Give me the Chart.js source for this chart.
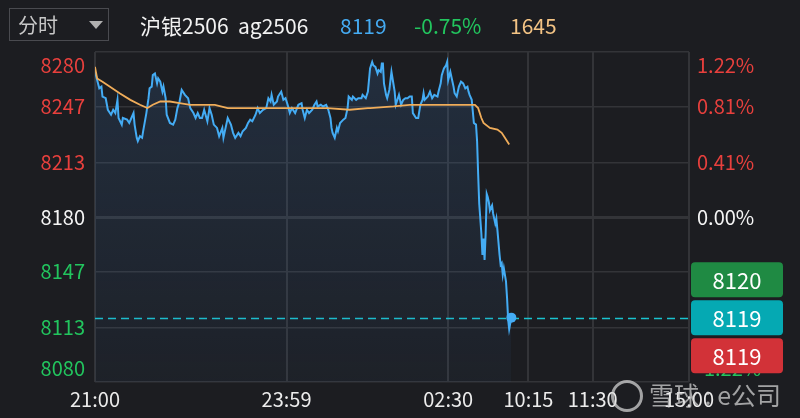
<!DOCTYPE html>
<html>
<head>
<meta charset="utf-8">
<script src="https://cdn.jsdelivr.net/npm/chart.js@4.4.1/dist/chart.umd.min.js"></script>
<style>
  html, body { margin: 0; padding: 0; background: #1c1d21; }
  #wrap { position: relative; width: 800px; height: 418px; overflow: hidden; font-family: "Noto Sans CJK SC", sans-serif; }
  canvas { display: block; }
  .hd { position: absolute; top: 9px; font-size: 21px; line-height: 32px; white-space: nowrap; }
  #sel { position: absolute; left: 9px; top: 8px; width: 100px; height: 33px; border: 1px solid #4a4b50; box-sizing: border-box; }
  #sel span { position: absolute; left: 8px; top: 0; font-size: 20px; line-height: 31px; color: #c8c8c8; }
  #sel i { position: absolute; left: 79px; top: 12px; width: 0; height: 0; border-left: 7px solid transparent; border-right: 7px solid transparent; border-top: 8px solid #b0b0b0; }
  #wm { position: absolute; left: 611px; top: 376px; color: rgba(215,215,215,0.72); font-size: 25px; line-height: 36px; white-space: nowrap; }
  #wm b { display: inline-block; width: 32px; height: 32px; border: 3px solid rgba(215,215,215,0.72); border-radius: 50%; vertical-align: -7px; margin-right: 6px; box-sizing: border-box; }
</style>
</head>
<body>
<div id="wrap">
  <canvas id="chart" width="800" height="418"></canvas>
  <div id="sel"><span>分时</span><i></i></div>
  <div class="hd" style="left:140px;color:#f2f2f2">沪银2506&nbsp;&nbsp;ag2506</div>
  <div class="hd" style="left:340px;color:#45abf2">8119</div>
  <div class="hd" style="left:414px;color:#22c55e">-0.75%</div>
  <div class="hd" style="left:510px;color:#f3c384">1645</div>
  <div id="wm"><b></b>雪球 : e公司</div>
</div>
<script>
const prevClose = 8180
const lastPrice = 8119
const yTicks = [8080, 8113, 8147, 8180, 8213, 8247, 8280]
const pctLabels = ['-1.22%', '-0.81%', '-0.41%', '0.00%', '0.41%', '0.81%', '1.22%']
const timeTicks = [0, 179, 330, 405, 465, 555]
const timeLabels = ['21:00', '23:59', '02:30', '10:15', '11:30', '15:00']
const sideValues = [8120, 8119, 8119]

// minutes since 21:00 on the trading clock
const priceMinutes = [
  0, 2, 4, 6, 7, 10, 12, 15, 17, 19, 21, 22, 25, 26, 30, 32, 34, 36, 37, 39,
  40, 42, 44, 45, 48, 50, 51, 53, 54, 56, 58, 59, 61, 63, 64, 66, 67, 70, 73, 75,
  77, 79, 81, 84, 87, 89, 92, 94, 96, 98,
  100, 102, 105, 107, 109, 111, 114, 116, 119, 120, 122, 124, 127, 129, 131, 134, 136, 138, 141, 143,
  145, 147, 150, 152, 154, 157, 160, 162, 164, 165, 167, 170, 171, 174, 176, 178, 180, 182, 184, 187,
  190, 193, 194, 196,
  198, 200, 203, 205, 207, 208, 211, 213, 216, 218, 220, 221, 222, 224, 226, 227, 229, 232, 234, 236,
  237, 240, 241, 244, 246, 249, 250, 253, 255, 257, 259, 260, 262, 264, 265, 267, 268, 269, 270, 272,
  273, 275, 277, 279, 280, 281, 282, 284, 286, 288, 290, 292,
  294, 296, 297, 300, 302, 304, 306, 307, 308, 311, 313, 315, 317, 320, 321, 323, 324, 326, 328, 329,
  330, 332, 334, 335, 336, 338, 340, 342, 344, 346, 348, 349, 350, 352, 353, 354, 356, 357,
  358, 359, 361, 362, 363, 364, 365, 366, 367, 368, 369, 371, 372, 374, 375, 376, 378, 379, 380, 381,
  382, 384, 385, 386, 387, 389
]
const prices = [
  8268, 8263, 8258, 8259, 8253, 8252, 8245, 8242, 8245, 8243, 8251, 8240, 8236, 8240, 8239, 8237, 8240, 8243, 8236, 8228,
  8226, 8229, 8228, 8232, 8243, 8252, 8258, 8259, 8266, 8267, 8261, 8264, 8262, 8256, 8259, 8252, 8242, 8237, 8236, 8239,
  8246, 8250, 8257, 8254, 8252, 8246, 8243, 8240, 8243, 8240,
  8240, 8245, 8238, 8246, 8242, 8236, 8234, 8229, 8234, 8228, 8234, 8240, 8236, 8231, 8228, 8231, 8229, 8232, 8234, 8237,
  8239, 8238, 8242, 8246, 8243, 8245, 8246, 8252, 8250, 8254, 8248, 8250, 8253, 8256, 8251, 8252, 8248, 8243, 8246, 8243,
  8248, 8249, 8245, 8240,
  8245, 8243, 8245, 8248, 8250, 8247, 8248, 8247, 8248, 8245, 8240, 8234, 8231, 8228, 8234, 8232, 8237, 8239, 8240, 8246,
  8253, 8251, 8253, 8251, 8252, 8252, 8254, 8252, 8256, 8270, 8274, 8272, 8271, 8267, 8269, 8268, 8273, 8273, 8261, 8254,
  8252, 8257, 8268, 8260, 8256, 8248, 8250, 8254, 8248, 8251, 8252, 8252,
  8253, 8253, 8243, 8240, 8240, 8248, 8251, 8255, 8251, 8253, 8256, 8252, 8254, 8253, 8256, 8261, 8266, 8270, 8272, 8274,
  8263, 8268, 8262, 8259, 8255, 8253, 8259, 8262, 8261, 8258, 8259, 8256, 8254, 8251, 8244, 8237, 8236, 8226,
  8206, 8188, 8170, 8157, 8167, 8154, 8170, 8194, 8192, 8189, 8184, 8187, 8182, 8176, 8179, 8172, 8157, 8151, 8152, 8145,
  8149, 8141, 8131, 8118, 8112, 8119
]
const avgMinutes = [
  0, 2, 7, 14, 23, 33, 42, 49, 54, 61, 70, 79, 89, 98, 112, 124, 140, 175, 196, 217,
  238, 255, 257, 279, 294, 321, 330, 339, 355, 358, 361, 363, 369, 376, 380, 383, 387
]
const avgPrices = [
  8271, 8264, 8262, 8259, 8255, 8251, 8248, 8246, 8248, 8250, 8250, 8249, 8248, 8248, 8248, 8246, 8246, 8246, 8246, 8246,
  8245, 8246, 8246, 8247, 8248, 8248, 8248, 8248, 8248, 8246, 8240, 8237, 8234, 8233, 8231, 8228, 8224
]

const RED = '#e8403d'
const GREEN = '#22c55e'
const FONT = '"Noto Sans CJK SC", sans-serif'
const boxColors = ['#1f8a43', '#05a9b3', '#d23238']

const overlay = {
  id: 'overlay',
  beforeDatasetsDraw(chart) {
    const { ctx, chartArea, scales: { y } } = chart
    const py = Math.round(y.getPixelForValue(lastPrice)) + 0.5
    ctx.save()
    ctx.strokeStyle = '#19c3cf'
    ctx.lineWidth = 1.5
    ctx.setLineDash([8, 5])
    ctx.beginPath()
    ctx.moveTo(chartArea.left, py)
    ctx.lineTo(chartArea.right, py)
    ctx.stroke()
    ctx.restore()
  },
  afterDraw(chart) {
    const { ctx, chartArea, scales: { y } } = chart
    ctx.save()
    ctx.font = '20px ' + FONT
    yTicks.forEach((v, i) => {
      let py = y.getPixelForValue(v)
      ctx.textBaseline = 'middle'
      if (i === 0) { ctx.textBaseline = 'bottom'; py -= 4 }
      if (i === yTicks.length - 1) { ctx.textBaseline = 'top'; py += 3 }
      ctx.fillStyle = v > prevClose ? RED : v < prevClose ? GREEN : '#f5f5f5'
      ctx.textAlign = 'right'
      ctx.fillText(String(v), chartArea.left - 10, py)
      ctx.textAlign = 'left'
      ctx.fillText(pctLabels[i], chartArea.right + 8, py)
    })
    // quote boxes on the right
    const mid = y.getPixelForValue(lastPrice)
    const h = 35, gap = 3, left = chartArea.right + 2, w = 92
    ctx.font = '22px ' + FONT
    ctx.textAlign = 'center'
    ctx.textBaseline = 'middle'
    sideValues.forEach((v, i) => {
      const top = mid - h / 2 + (i - 1) * (h + gap)
      ctx.fillStyle = boxColors[i]
      ctx.beginPath()
      ctx.roundRect(left, top, w, h, 4)
      ctx.fill()
      ctx.fillStyle = '#ffffff'
      ctx.fillText(String(v), left + w / 2, top + h / 2 + 1)
    })
    ctx.restore()
  }
}

new Chart(document.getElementById('chart'), {
  type: 'line',
  data: {
    datasets: [
      {
        data: avgMinutes.map((m, i) => ({ x: m, y: avgPrices[i] })),
        borderColor: '#f0ad5a',
        borderWidth: 1.8,
        pointRadius: 0,
        tension: 0,
        fill: false
      },
      {
        data: priceMinutes.map((m, i) => ({ x: m, y: prices[i] })),
        borderColor: '#44acf4',
        borderWidth: 2,
        pointRadius: ctx => ctx.dataIndex === prices.length - 1 ? 5 : 0,
        pointBackgroundColor: '#44acf4',
        pointBorderWidth: 0,
        tension: 0,
        fill: 'start',
        backgroundColor: ctx => {
          const area = ctx.chart.chartArea
          if (!area) return 'rgba(0,0,0,0)'
          const g = ctx.chart.ctx.createLinearGradient(0, area.top, 0, area.bottom)
          g.addColorStop(0, 'rgba(60,110,170,0.22)')
          g.addColorStop(1, 'rgba(60,110,170,0.06)')
          return g
        }
      }
    ]
  },
  options: {
    responsive: false,
    animation: false,
    layout: { padding: { left: 95, right: 111, top: 52, bottom: 2 } },
    plugins: { legend: { display: false }, tooltip: { enabled: false } },
    scales: {
      x: {
        type: 'linear',
        min: 0,
        max: 555,
        afterBuildTicks: axis => { axis.ticks = timeTicks.map(v => ({ value: v })) },
        ticks: {
          autoSkip: false,
          maxRotation: 0,
          padding: 5,
          color: '#ececec',
          font: { family: FONT, size: 20 },
          callback: v => timeLabels[timeTicks.indexOf(v)]
        },
        grid: { color: '#333438', lineWidth: 2, drawTicks: false },
        border: { display: false }
      },
      y: {
        min: 8080,
        max: 8280,
        afterBuildTicks: axis => { axis.ticks = yTicks.map(v => ({ value: v })) },
        ticks: { display: false },
        grid: {
          color: '#333438',
          lineWidth: ctx => ctx.tick && ctx.tick.value === prevClose ? 3 : 1.5,
          drawTicks: false
        },
        border: { display: false }
      }
    }
  },
  plugins: [overlay]
})
</script>
</body>
</html>
